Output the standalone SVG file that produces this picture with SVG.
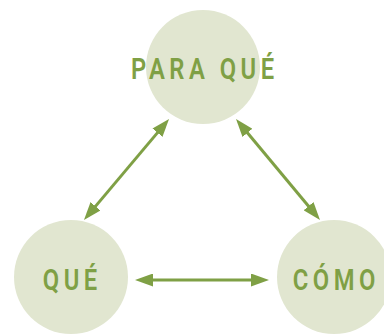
<svg xmlns="http://www.w3.org/2000/svg" width="384" height="334" viewBox="0 0 384 334">
<defs>
<style>
.c{fill:#e1e6d0}
.t{fill:#7fa045;font-family:Roboto,"Liberation Sans",sans-serif;font-weight:600;font-size:29px;letter-spacing:5.5px;text-anchor:middle}
.l{stroke:#7fa045;stroke-width:3;fill:none;marker-start:url(#a);marker-end:url(#a)}
</style>
<marker id="a" viewBox="0 0 18 13" markerWidth="18" markerHeight="13" refX="8" refY="6.5" markerUnits="userSpaceOnUse" orient="auto-start-reverse">
<path d="M0,0 L18,6.5 L0,13 z" fill="#7fa045"/>
</marker>
</defs>
<g id="node-paraque"><circle class="c" cx="203" cy="67" r="57"/><text class="t" transform="translate(204.8 79) scale(0.82 1)">PARA QUÉ</text></g>
<g id="node-que"><circle class="c" cx="71" cy="277" r="57"/><text class="t" transform="translate(72.3 289.5) scale(0.82 1)">QUÉ</text></g>
<g id="node-como"><circle class="c" cx="334" cy="277" r="57"/><text class="t" transform="translate(336.3 289.5) scale(0.82 1)">CÓMO</text></g>
<g id="connectors">
<line class="l" x1="162.6" y1="126.6" x2="90.4" y2="212.4"/>
<line class="l" x1="242.4" y1="126.7" x2="313.6" y2="212.3"/>
<line class="l" x1="145" y1="280" x2="259" y2="280"/>
</g>
</svg>
